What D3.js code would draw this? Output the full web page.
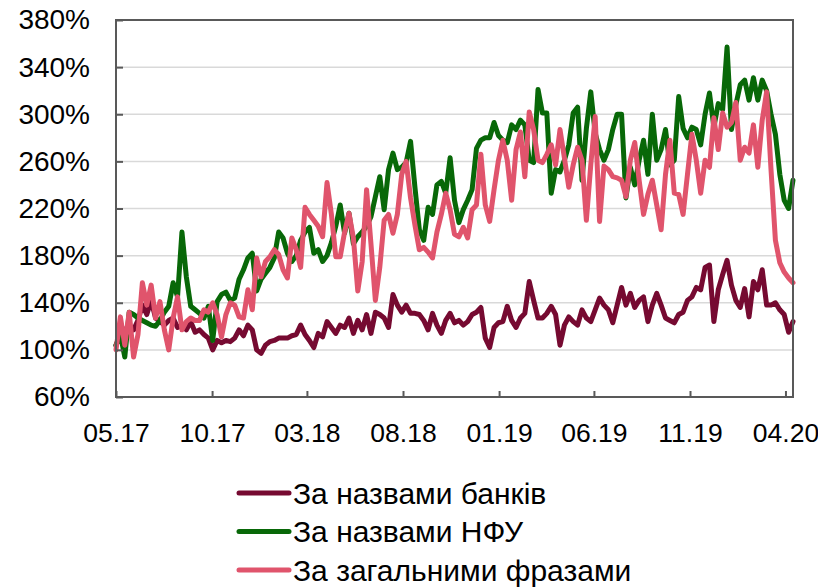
<!DOCTYPE html>
<html>
<head>
<meta charset="utf-8">
<script src="https://cdn.jsdelivr.net/npm/d3@7"></script>
<style>
  html, body { margin: 0; padding: 0; background: #ffffff; }
  svg { display: block; }
  text { font-family: "Liberation Sans", Arial, sans-serif; fill: #000; }
</style>
</head>
<body>
<svg id="chart" width="818" height="588"></svg>
<script>
// Weekly index of mentions, % of the base week (start: 1 May 2017)
const startDate = new Date(2017, 4, 1);

const banks = [
  104,113,117,121,117,125,138,130,142,127,
  124,121,125,127,119,121,117,124,115,117,
  113,110,100,108,106,108,107,110,117,112,
  121,117,100,97,104,107,108,110,110,110,
  112,113,121,113,108,102,114,111,124,119,
  114,121,119,127,114,125,117,130,114,132,
  130,127,119,147,138,132,138,131,131,130,
  125,117,131,121,114,125,131,123,125,121,
  124,130,132,136,110,102,119,123,124,137,
  125,119,127,131,158,142,127,127,131,137,
  130,104,121,128,124,121,134,127,124,134,
  144,138,134,123,138,153,138,148,136,142,
  145,124,138,148,138,127,125,123,130,132,
  142,145,153,151,170,172,124,151,164,176,
  155,142,136,152,128,158,151,168,138,138,
  140,134,130,115,124
];

const nonFinancial = [
  104,113,94,132,130,127,125,123,121,120,
  125,132,137,157,145,200,162,137,134,131,
  127,137,108,141,147,149,142,144,160,168,
  178,182,150,160,165,170,178,200,195,182,
  175,180,193,200,204,182,185,175,180,191,
  205,223,199,216,190,196,200,205,213,230,
  247,219,253,267,253,255,259,277,238,202,
  193,221,215,240,243,233,263,227,208,219,
  227,236,271,278,280,280,293,282,278,276,
  291,287,295,291,261,259,321,301,301,233,
  253,251,261,274,301,306,244,288,319,284,
  270,261,270,287,300,300,229,255,240,261,
  278,249,300,261,270,287,257,261,315,288,
  280,289,287,274,300,318,289,309,304,357,
  287,308,325,329,312,331,312,329,320,300,
  283,249,227,220,244
];

const generalPhrases = [
  100,128,104,132,94,113,157,138,155,127,
  141,117,100,127,145,117,124,127,125,125,
  134,132,140,130,111,130,140,138,128,127,
  151,134,178,162,175,179,185,181,168,161,
  195,185,170,221,215,210,205,196,242,215,
  179,179,200,216,195,150,175,236,190,142,
  170,210,215,199,215,249,260,229,206,185,
  187,183,178,200,215,233,219,198,196,204,
  195,219,223,266,223,209,236,261,278,261,
  227,270,285,247,302,287,261,259,266,274,
  257,287,263,238,257,272,261,210,257,298,
  209,256,253,247,246,244,230,261,276,244,
  215,232,244,223,202,249,278,233,232,215,
  249,283,261,233,261,255,297,270,301,289,
  293,310,261,272,267,291,255,295,319,253,
  193,174,166,161,157
];

const yTicks = [60, 100, 140, 180, 220, 260, 300, 340, 380];
const xTickDates = ["2017-05-01","2017-10-01","2018-03-01","2018-08-01",
                    "2019-01-01","2019-06-01","2019-11-01","2020-04-01"];

const seriesNames = ["За назвами банків", "За назвами НФУ", "За загальними фразами"];
const seriesColors = ["#760a31", "#086808", "#e0546c"];
const seriesData = [banks, nonFinancial, generalPhrases];

const dates = banks.map((_, i) => d3.timeDay.offset(startDate, 7 * i));

const margin = { left: 116, right: 25, top: 20, bottom: 191 };
const W = 818, H = 588;
const plotW = W - margin.left - margin.right;
const plotH = H - margin.top - margin.bottom;

const svg = d3.select("#chart");
const g = svg.append("g").attr("transform", `translate(${margin.left},${margin.top})`);

const x = d3.scaleTime().domain([dates[0], dates[dates.length - 1]]).range([0, plotW]);
const y = d3.scaleLinear().domain([60, 380]).range([plotH, 0]);

// horizontal gridlines
g.append("g").selectAll("line").data(yTicks).join("line")
  .attr("x1", 0).attr("x2", plotW)
  .attr("y1", d => y(d)).attr("y2", d => y(d))
  .attr("stroke", "#d9d9d9").attr("stroke-width", 1.5);

// series lines
const line = d3.line()
  .x((d, i) => x(dates[i]))
  .y(d => y(d));

seriesData.forEach((s, k) => {
  g.append("path")
    .datum(s)
    .attr("fill", "none")
    .attr("stroke", seriesColors[k])
    .attr("stroke-width", 5)
    .attr("stroke-linejoin", "round")
    .attr("stroke-linecap", "round")
    .attr("d", line);
});

// frame
g.append("rect")
  .attr("x", 0).attr("y", 0).attr("width", plotW).attr("height", plotH)
  .attr("fill", "none").attr("stroke", "#595959").attr("stroke-width", 2);

// axes
const yAxis = d3.axisLeft(y)
  .tickValues(yTicks)
  .tickFormat(d => d + "%")
  .tickSizeInner(-7).tickSizeOuter(0).tickPadding(26);
const yg = g.append("g").call(yAxis);
yg.select(".domain").remove();
yg.selectAll(".tick line").attr("stroke", "#595959").attr("stroke-width", 2);
yg.selectAll("text").attr("font-size", 28).attr("font-family", "Liberation Sans, Arial, sans-serif");

const xAxis = d3.axisBottom(x)
  .tickValues(xTickDates.map(d => d3.timeParse("%Y-%m-%d")(d)))
  .tickFormat(d3.timeFormat("%m.%y"))
  .tickSizeInner(-6).tickSizeOuter(0).tickPadding(26);
const xg = g.append("g").attr("transform", `translate(0,${plotH})`).call(xAxis);
xg.select(".domain").remove();
xg.selectAll(".tick line").attr("stroke", "#595959").attr("stroke-width", 2);
xg.selectAll("text").attr("font-size", 26.5).attr("font-family", "Liberation Sans, Arial, sans-serif");

// legend
const legend = svg.append("g").attr("transform", "translate(237,493)");
seriesNames.forEach((name, k) => {
  const row = legend.append("g").attr("transform", `translate(0,${k * 38.5})`);
  row.append("line")
    .attr("x1", 2).attr("x2", 52).attr("y1", 0).attr("y2", 0)
    .attr("stroke", seriesColors[k]).attr("stroke-width", 5)
    .attr("stroke-linecap", "round");
  row.append("text")
    .attr("x", 56).attr("y", 0).attr("dy", "0.36em")
    .attr("font-size", 30)
    .text(name);
});
</script>
</body>
</html>
